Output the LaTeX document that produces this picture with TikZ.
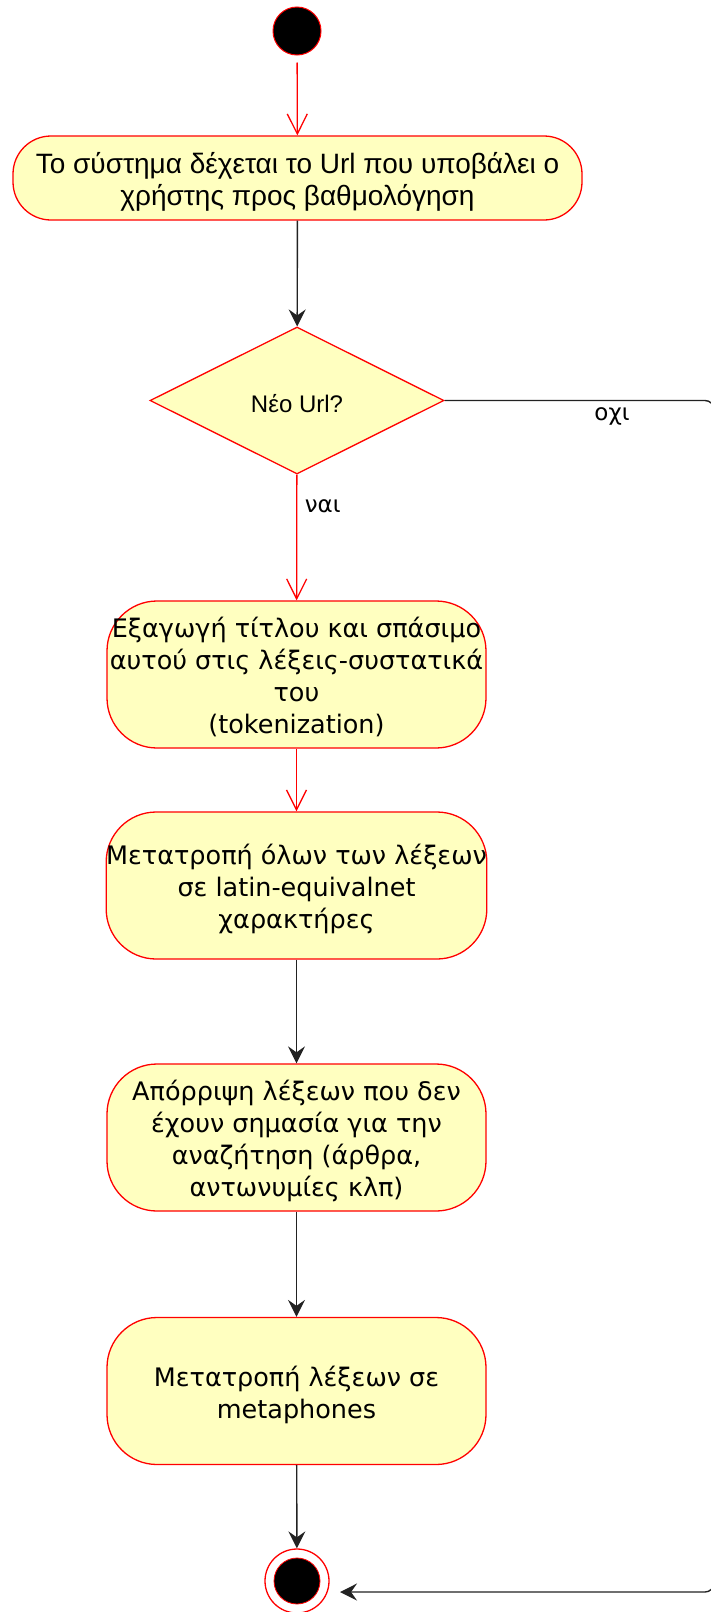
\documentclass[tikz,border=0pt]{standalone}
\usepackage{fontspec}
\usetikzlibrary{arrows.meta,shapes.geometric}
\newfontfamily\arialfont{Liberation Sans}
\newfontfamily\verdfont{DejaVu Sans}
\definecolor{actfill}{HTML}{FFFFC0}
\definecolor{actline}{HTML}{FF0000}
\definecolor{flowline}{HTML}{222222}
% centred lines of a step, drawn a little below the middle of its box
\newcommand\steplines[1]{\raisebox{-5pt}[\height][\depth]{\begin{tabular}{@{}c@{}}#1\end{tabular}}}

\begin{document}
\begin{tikzpicture}[x=1pt,y=-1pt,
  activity/.style={draw=actline, fill=actfill, line width=1.3pt,
    rounded corners=50pt, minimum width=379pt, minimum height=147pt,
    inner sep=0pt, align=center, text=black,
    font=\verdfont\fontsize{25.5}{32}\selectfont},
  firstact/.style={activity, rounded corners=38pt, minimum width=569pt,
    minimum height=84pt, font=\arialfont\fontsize{28}{32}\selectfont},
  decision/.style={diamond, draw=actline, fill=actfill, line width=1.3pt,
    minimum width=294pt, minimum height=147pt, inner sep=0pt, aspect=2,
    font=\arialfont\fontsize{24}{28}\selectfont},
  initial/.style={circle, fill=black, draw=actline, line width=1pt,
    minimum size=48pt, inner sep=0pt},
  finalring/.style={circle, fill=white, draw=actline, line width=1.3pt,
    minimum size=64pt, inner sep=0pt},
  finaldot/.style={circle, fill=black, draw=actline, line width=0.8pt,
    minimum size=46pt, inner sep=0pt},
  redflow/.style={draw=actline, line width=1.3pt,
    -{Straight Barb[length=20pt,width=20pt,line width=1.3pt]}},
  blackflow/.style={draw=flowline, line width=1.4pt,
    -{Stealth[length=17pt,width=17pt,inset=6pt]}},
  guard/.style={font=\verdfont\fontsize{23}{26}\selectfont, text=black}
]
\useasboundingbox (0,0) rectangle (710,1612);

% nodes
\node[initial] (start) at (297,31) {};
\node[firstact] (recv) at (297.5,178)
  {\steplines{Το σύστημα δέχεται το Url που υποβάλει ο\\χρήστης προς βαθμολόγηση}};
\node[decision] (isnew) at (297,400.5) {\raisebox{-3pt}[\height][\depth]{Νέο Url?}};
\node[activity] (tok) at (296.5,674.5)
  {\steplines{Εξαγωγή τίτλου και σπάσιμο\\αυτού στις λέξεις-συστατικά\\του\\(tokenization)}};
\node[activity] (latin) at (296.5,885.5)
  {\steplines{Μετατροπή όλων των λέξεων\\σε latin-equivalnet\\χαρακτήρες}};
\node[activity] (stop) at (296.5,1137.5)
  {\steplines{Απόρριψη λέξεων που δεν\\έχουν σημασία για την\\αναζήτηση (άρθρα,\\αντωνυμίες κλπ)}};
\node[activity] (meta) at (296.5,1391)
  {\steplines{Μετατροπή λέξεων σε\\metaphones}};
\node[finalring] (finish) at (297,1581) {};
\node[finaldot] (finishdot) at (297,1581) {};

% loop-back route along the right edge
\coordinate (loopTop) at (714,400.5);
\coordinate (loopBot) at (714,1592);
\coordinate (loopEnd) at (340,1592);

% connectors
\draw[redflow, shorten <=7pt] (start) -- (recv);
\draw[blackflow] (recv) -- (isnew);
\draw[redflow] (isnew) -- (tok)
  node[guard, pos=0.25, anchor=west, xshift=4pt] {ναι};
\draw[redflow] (tok) -- (latin);
\draw[blackflow] (latin) -- (stop);
\draw[blackflow] (stop) -- (meta);
\draw[blackflow] (meta) -- (finish);
\draw[blackflow, rounded corners=9pt] (isnew.east) -- (loopTop) -- (loopBot) -- (loopEnd);
\node[guard, fill=white, inner sep=2pt] (nolabel) at (612,416) {οχι};
\end{tikzpicture}
\end{document}
